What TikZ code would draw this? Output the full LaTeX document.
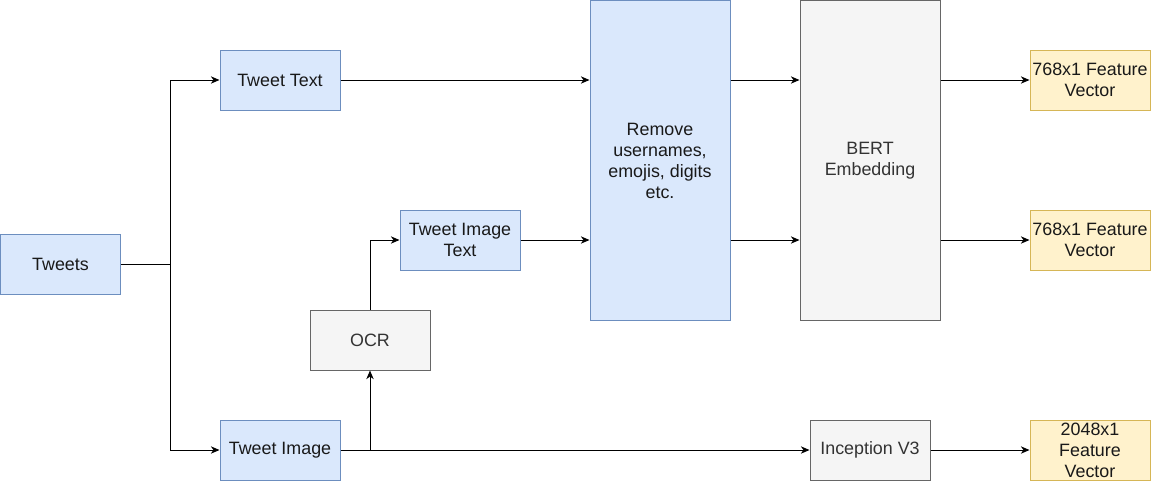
\documentclass[tikz,border=0pt]{standalone}
\usepackage{fontspec}
\setmainfont{Liberation Sans}
\usetikzlibrary{arrows.meta}
\definecolor{bfill}{HTML}{DAE8FC}
\definecolor{bdraw}{HTML}{6C8EBF}
\definecolor{gfill}{HTML}{F5F5F5}
\definecolor{gdraw}{HTML}{666666}
\definecolor{yfill}{HTML}{FFF2CC}
\definecolor{ydraw}{HTML}{D6B656}
\definecolor{gtext}{HTML}{333333}
\tikzset{
  box/.style={draw, line width=0.75pt, inner sep=0pt, align=center,
    font=\fontsize{13.4pt}{15.75pt}\selectfont, text=black!90},
  bluebox/.style={box, fill=bfill, draw=bdraw},
  graybox/.style={box, fill=gfill, draw=gdraw, text=gtext},
  yellowbox/.style={box, fill=yfill, draw=ydraw},
  conn/.style={line width=0.75pt, -{Stealth[length=6.5pt,width=5.5pt,inset=2pt]}},
  plain/.style={line width=0.75pt}
}
\begin{document}
\begin{tikzpicture}[x=0.75pt,y=-0.75pt]
\useasboundingbox (0,0) rectangle (1151,486);
\node[bluebox, minimum width=120*0.75pt, minimum height=60*0.75pt] (tweets) at (60.5,264) {Tweets};
\node[bluebox, minimum width=120*0.75pt, minimum height=60*0.75pt] (ttext) at (280,80) {Tweet Text};
\node[bluebox, minimum width=120*0.75pt, minimum height=60*0.75pt] (titext) at (460,240) {Tweet Image\\Text};
\node[graybox, minimum width=120*0.75pt, minimum height=60*0.75pt] (ocr) at (370,340) {OCR};
\node[bluebox, minimum width=120*0.75pt, minimum height=60*0.75pt] (timg) at (280,450) {Tweet Image};
\node[bluebox, minimum width=140*0.75pt, minimum height=320*0.75pt] (remove) at (660,160.5) {Remove\\usernames,\\emojis, digits\\etc.};
\node[graybox, minimum width=140*0.75pt, minimum height=320*0.75pt] (bert) at (870,160.5) {BERT\\Embedding};
\node[yellowbox, minimum width=120*0.75pt, minimum height=60*0.75pt] (fv1) at (1090,80) {768x1 Feature\\Vector};
\node[yellowbox, minimum width=120*0.75pt, minimum height=60*0.75pt] (fv2) at (1090,240) {768x1 Feature\\Vector};
\node[graybox, minimum width=120*0.75pt, minimum height=60*0.75pt] (incep) at (870,450) {Inception V3};
\node[yellowbox, minimum width=120*0.75pt, minimum height=60*0.75pt] (fv3) at (1090,450) {2048x1\\Feature\\Vector};
\coordinate (split) at (170,264);
\coordinate (tap) at (370,450);
\draw[plain] (tweets.east) -- (split);
\draw[conn] (split) |- (ttext.west);
\draw[conn] (split) |- (timg.west);
\draw[conn] (ttext.east) -- (remove.west |- ttext.east);
\draw[conn] (titext.east) -- (remove.west |- titext.east);
\draw[conn] (timg.east) -- (incep.west);
\draw[conn] (tap) -- (ocr.south);
\draw[conn] (ocr.north) |- (titext.west);
\draw[conn] (remove.east |- ttext.east) -- (bert.west |- ttext.east);
\draw[conn] (remove.east |- titext.east) -- (bert.west |- titext.east);
\draw[conn] (bert.east |- fv1.west) -- (fv1.west);
\draw[conn] (bert.east |- fv2.west) -- (fv2.west);
\draw[conn] (incep.east) -- (fv3.west);
\end{tikzpicture}
\end{document}
